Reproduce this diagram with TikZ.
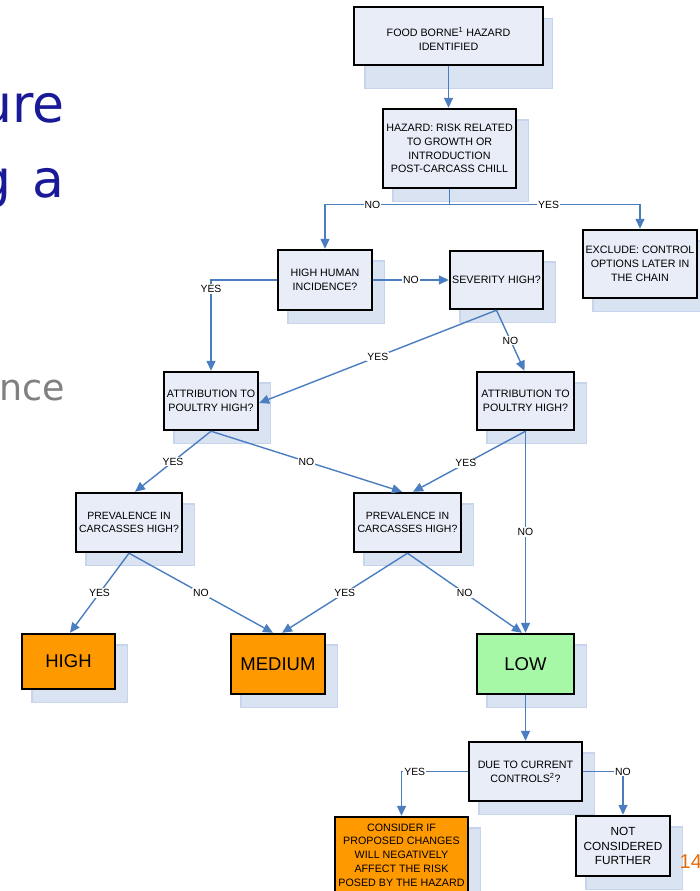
\documentclass[tikz,border=0pt]{standalone}
\usepackage{fontspec}
\setmainfont{Liberation Sans}
\newfontfamily\slidefont{DejaVu Sans}
\usetikzlibrary{arrows.meta,backgrounds}
\definecolor{boxfill}{RGB}{232,237,247}
\definecolor{shadowfill}{RGB}{218,227,242}
\definecolor{shadowline}{RGB}{198,213,236}
\definecolor{arrowblue}{RGB}{74,126,193}
\definecolor{orangebox}{RGB}{255,153,0}
\definecolor{greenbox}{RGB}{166,247,166}
\definecolor{titleblue}{RGB}{26,26,153}
\definecolor{subgrey}{RGB}{128,128,128}
\definecolor{pagenum}{RGB}{228,108,10}
\tikzset{
  box/.style={draw=black, line width=2.4pt, fill=boxfill, inner sep=0pt, align=center,
    text=black, font=\fontsize{10.7}{13.8}\selectfont},
  smallbox/.style={box, font=\fontsize{10.5}{13.4}\selectfont},
  largebox/.style={box, font=\fontsize{11.8}{14.5}\selectfont},
  bigbox/.style={box, font=\fontsize{18.5}{22}\selectfont},
  shadowbox/.style={fill=shadowfill, draw=shadowline, line width=1.4pt},
  arr/.style={draw=arrowblue, line width=1.4pt, -{Triangle[length=10pt,width=9pt]}},
  lbl/.style={fill=white, inner sep=1pt, text=black, font=\fontsize{10.4}{12}\selectfont},
  slidetext/.style={anchor=base east, inner sep=0pt},
}
\begin{document}
\begin{tikzpicture}[x=1pt,y=-1pt]
\useasboundingbox (0,0) rectangle (700,891);
\clip (0,0) rectangle (700,891);

% slide fragments
\node[slidetext, text=titleblue, font=\slidefont\fontsize{52}{58}\selectfont] (t1) at (65,122) {ure};
\node[slidetext, text=titleblue, font=\slidefont\fontsize{52}{58}\selectfont] (t2) at (65,197) {g\hspace{21pt}a};
\node[slidetext, text=subgrey, font=\slidefont\fontsize{36.5}{40}\selectfont] (t3) at (65,400) {nce};
\node[anchor=base west, inner sep=0pt, text=pagenum, font=\fontsize{20}{22}\selectfont] (pg) at (679.5,868) {14};

% boxes
\node[box, minimum width=189, minimum height=58] (food) at (448.5,36)
  {\raisebox{-5pt}[\height][\depth]{\begin{tabular}{@{}c@{}}FOOD BORNE\textsuperscript{1} HAZARD\\IDENTIFIED\end{tabular}}};
\node[box, minimum width=133, minimum height=79] (hazard) at (449.5,148.5)
  {HAZARD: RISK RELATED\\TO GROWTH OR\\INTRODUCTION\\POST-CARCASS CHILL};
\node[box, minimum width=94, minimum height=60] (human) at (325,280) {HIGH HUMAN\\INCIDENCE?};
\node[box, minimum width=93, minimum height=58] (sev) at (496.5,280) {SEVERITY HIGH?};
\node[box, minimum width=114, minimum height=68] (excl) at (640,264) {EXCLUDE: CONTROL\\OPTIONS LATER IN\\THE CHAIN};
\node[box, minimum width=94, minimum height=58] (attrL) at (211,401) {ATTRIBUTION TO\\POULTRY HIGH?};
\node[box, minimum width=97, minimum height=58] (attrR) at (525.5,401) {ATTRIBUTION TO\\POULTRY HIGH?};
\node[smallbox, minimum width=106, minimum height=59] (prevL) at (129,522.5) {PREVALENCE IN\\CARCASSES HIGH?};
\node[smallbox, minimum width=107, minimum height=59] (prevR) at (407.5,522.5) {PREVALENCE IN\\CARCASSES HIGH?};
\node[bigbox, fill=orangebox, minimum width=93, minimum height=55] (high) at (68.5,661.5) {HIGH};
\node[bigbox, fill=orangebox, minimum width=94, minimum height=60] (med) at (278,664) {MEDIUM};
\node[bigbox, fill=greenbox, minimum width=97, minimum height=60] (low) at (525.5,664) {LOW};
\node[box, minimum width=113, minimum height=59] (due) at (525.5,771.5) {DUE TO CURRENT\\CONTROLS\textsuperscript{2}?};
\node[box, fill=orangebox, minimum width=133, minimum height=76] (cons) at (401.5,855)
  {CONSIDER IF\\PROPOSED CHANGES\\WILL NEGATIVELY\\AFFECT THE RISK\\POSED BY THE HAZARD};
\node[largebox, minimum width=94, minimum height=60] (notc) at (623,846) {NOT\\CONSIDERED\\FURTHER};

% connectors
\draw[arr] (food.south) -- (food.south |- hazard.north);
\draw[arr] (hazard.south) -- ++(0,15.5) -| node[lbl,pos=0.31] (l1) {NO} (human.north);
\draw[arr] (hazard.south) -- ++(0,15.5) -| node[lbl,pos=0.26] (l2) {YES} (excl.north);
\draw[arr] (human.east) -- node[lbl] (l3) {NO} (sev.west);
\draw[arr] (human.west) -| node[lbl,pos=0.55] (l4) {YES} (attrL.north);
\draw[arr] (sev.south) -- node[lbl] (l5) {YES} ([yshift=-2]attrL.east);
\draw[arr] (sev.south) -- node[lbl] (l6) {NO} ([xshift=-1]attrR.north);
\draw[arr] (attrL.south) -- node[lbl] (l7) {YES} ([xshift=6]prevL.north);
\draw[arr] (attrL.south) -- node[lbl] (l8) {NO} ([xshift=-5.5]prevR.north);
\draw[arr] (attrR.south) -- node[lbl,pos=0.53] (l9) {YES} ([xshift=5.5]prevR.north);
\draw[arr] (attrR.south) -- node[lbl] (l10) {NO} (low.north);
\draw[arr] (prevL.south) -- node[lbl] (l11) {YES} ([xshift=1.5]high.north);
\draw[arr] (prevL.south) -- node[lbl] (l12) {NO} ([xshift=-5]med.north);
\draw[arr] (prevR.south) -- node[lbl] (l13) {YES} ([xshift=4]med.north);
\draw[arr] (prevR.south) -- node[lbl] (l14) {NO} ([xshift=-3.5]low.north);
\draw[arr] (low.south) -- (due.north);
\draw[arr] (due.west) -| node[lbl,pos=0.4] (l15) {YES} (cons.north);
\draw[arr] (due.east) -| node[lbl,pos=0.5] (l16) {NO} (notc.north);

% shadows
\begin{scope}[on background layer]
\clip (0,0) rectangle (700,891);
\path[shadowbox] ([shift={(12,13)}]food.north west) rectangle ([shift={(8,22)}]food.south east);
\foreach \n in {hazard,human,sev,excl,attrL,attrR,prevL,prevR,high,med,low,due,cons,notc}
  \path[shadowbox] ([shift={(11,12)}]\n.north west) rectangle ([shift={(11,12)}]\n.south east);
\end{scope}
\end{tikzpicture}
\end{document}
